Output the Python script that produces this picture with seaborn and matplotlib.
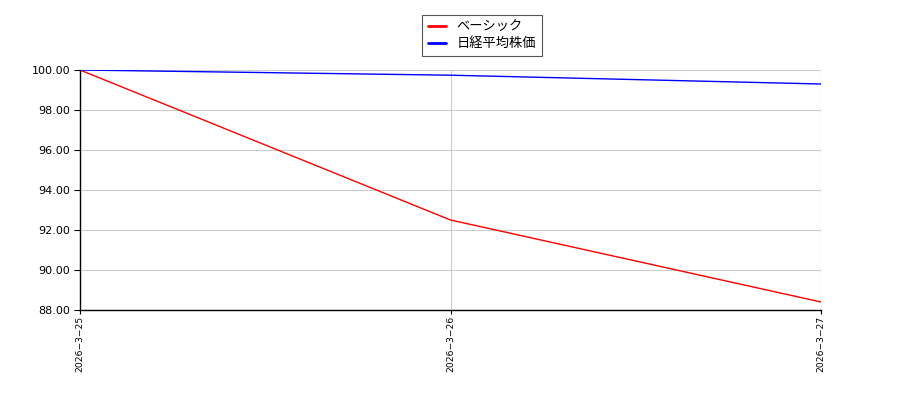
import matplotlib
matplotlib.use("Agg")
import matplotlib.pyplot as plt
import seaborn as sns
import pandas as pd

dates = ["2026-3-25", "2026-3-26", "2026-3-27"]
basic = [100.0, 92.5, 88.4]
nikkei = [100.0, 99.74, 99.3]
series_names = ["ベーシック", "日経平均株価"]
yticks = [88.0, 90.0, 92.0, 94.0, 96.0, 98.0, 100.0]

sns.set_style("white")
plt.rcParams['font.family'] = ['DejaVu Sans', 'Noto Sans CJK JP']
plt.rcParams['text.color'] = 'black'
plt.rcParams['xtick.color'] = 'black'
plt.rcParams['ytick.color'] = 'black'

df = pd.DataFrame({
    "pos": list(range(len(dates))) * 2,
    "value": basic + nikkei,
    "series": [series_names[0]] * len(dates) + [series_names[1]] * len(dates),
})

fig = plt.figure(figsize=(9, 4), dpi=100)
ax = fig.add_axes([80/900, 1-310/400, (821-80)/900, 240/400])
sns.lineplot(data=df, x="pos", y="value", hue="series",
             palette={series_names[0]: "red", series_names[1]: "blue"},
             linewidth=1, ax=ax)
ax.set_xlim(0, len(dates) - 1)
ax.set_ylim(88, 100)
ax.set_xticks(range(len(dates)))
ax.set_xticklabels([d.replace("-", "\u2212") for d in dates], rotation=90, fontsize=6.6)
ax.set_yticks(yticks)
ax.set_yticklabels([f"{v:.2f}" for v in yticks], fontsize=8)
ax.grid(True, color="#cccccc", linewidth=0.8)
ax.set_axisbelow(True)
ax.set_xlabel("")
ax.set_ylabel("")
for s in ["top", "right"]:
    ax.spines[s].set_visible(False)
for s in ["left", "bottom"]:
    ax.spines[s].set_color("black")
    ax.spines[s].set_linewidth(1)
ax.tick_params(axis="y", length=4, color="black", left=True, pad=3)
ax.tick_params(axis="x", length=3, color="black", bottom=True, pad=1)
leg = ax.legend(loc="upper center", bbox_to_anchor=(0.5425, 1.229), ncol=1,
                prop={"family": ["Noto Sans CJK JP", "DejaVu Sans"], "size": 9.5},
                frameon=True, fancybox=False, edgecolor="#555555", framealpha=1,
                handlelength=1.4, handletextpad=0.8, borderpad=0.4, labelspacing=0.3,
                borderaxespad=0)
leg.get_frame().set_linewidth(0.8)
for line in leg.get_lines():
    line.set_linewidth(2)
fig.savefig("out.png", dpi=100)
